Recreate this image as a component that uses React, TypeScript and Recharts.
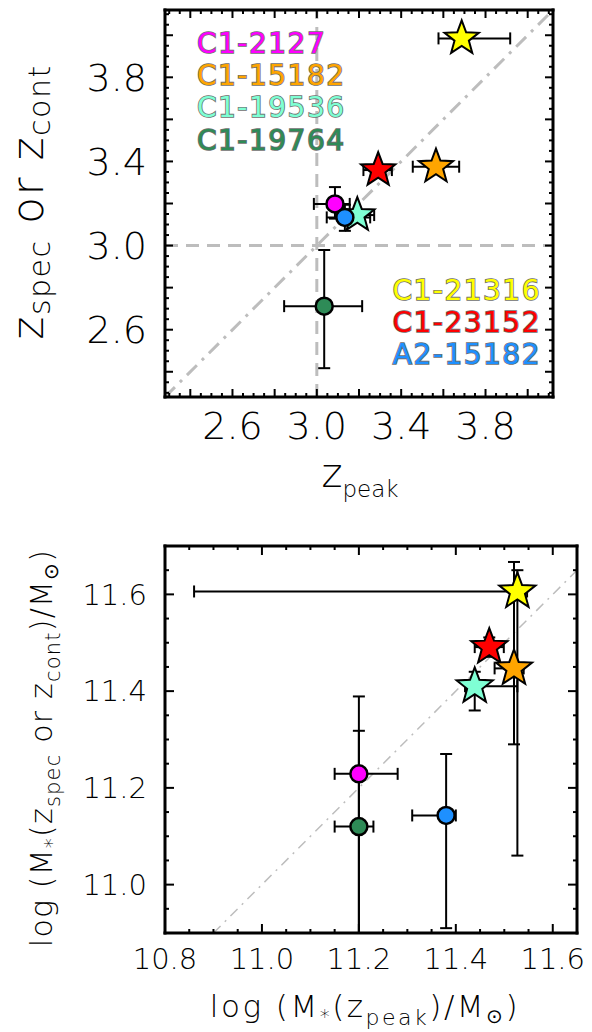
import React from 'react';
import { ScatterChart, Scatter, XAxis, YAxis, ErrorBar, ReferenceLine } from 'recharts';

// ---------- data ----------
const names = ['C1-2127', 'C1-15182', 'C1-19536', 'C1-19764', 'C1-21316', 'C1-23152', 'A2-15182'];
const markers = ['circle', 'star', 'star', 'circle', 'star', 'star', 'circle'];

// top panel: z_peak vs z_spec / z_cont
const zPeak = [3.086, 3.565, 3.192, 3.035, 3.687, 3.291, 3.133];
const zPeakErrLo = [0.10, 0.11, 0.05, 0.19, 0.11, 0.07, 0.086];
const zPeakErrHi = [0.07, 0.11, 0.08, 0.18, 0.23, 0.065, 0.12];
const zSpec = [3.198, 3.375, 3.145, 2.712, 3.985, 3.359, 3.134];
const zSpecErrLo = [0.07, 0, 0, 0.295, 0, 0, 0.064];
const zSpecErrHi = [0.08, 0, 0, 0.267, 0, 0, 0.06];

// bottom panel: log M*(z_peak) vs log M*(z_spec or z_cont)
const mPeak = [11.20, 11.52, 11.439, 11.20, 11.527, 11.469, 11.38];
const mPeakErrLo = [0.05, 0.04, 0.02, 0.05, 0.667, 0.03, 0.07];
const mPeakErrHi = [0.08, 0.02, 0.088, 0.03, 0.02, 0.03, 0.02];
const mSpec = [11.229, 11.447, 11.41, 11.12, 11.606, 11.491, 11.143];
const mSpecErrLo = [0.329, 0.157, 0.05, 0.22, 0.546, 0.02, 0.233];
const mSpecErrHi = [0.16, 0.22, 0.03, 0.198, 0.044, 0.02, 0.127];

const zTickLabels = [2.6, 3.0, 3.4, 3.8];
const mXTickLabels = [10.8, 11.0, 11.2, 11.4, 11.6];
const mYTickLabels = [11.0, 11.2, 11.4, 11.6];

const zDomain: [number, number] = [2.28, 4.12];
const mXDomain: [number, number] = [10.8, 11.65];
const mYDomain: [number, number] = [10.9, 11.7];

// ---------- style ----------
const colors = ['#FF00FF', '#FFA500', '#7FFFD4', '#2E8B57', '#FFFF00', '#FF0000', '#1E90FF'];
const drawOrder = [4, 5, 1, 2, 3, 0, 6];
const FONT = '"DejaVu Sans", sans-serif';
const GRAY = '#bdbdbd';

const steps = (a: number, b: number, s: number) => {
  const out: number[] = [];
  for (let v = a; v <= b + 1e-9; v += s) out.push(Math.round(v * 1000) / 1000);
  return out;
};

const starPoints = (cx: number, cy: number, R: number) => {
  const r = R * 0.42;
  const pts: string[] = [];
  for (let i = 0; i < 10; i++) {
    const a = -Math.PI / 2 + (i * Math.PI) / 5;
    const rad = i % 2 === 0 ? R : r;
    pts.push(`${cx + rad * Math.cos(a)},${cy + rad * Math.sin(a)}`);
  }
  return pts.join(' ');
};

const makeShape = (kind: string, color: string, starR: number, circR: number) => (p: any) => {
  const { cx, cy } = p;
  if (cx == null || cy == null) return <g />;
  if (kind === 'star')
    return <polygon points={starPoints(cx, cy, starR)} fill={color} stroke="#000" strokeWidth={2} strokeLinejoin="miter" />;
  return <circle cx={cx} cy={cy} r={circR} fill={color} stroke="#000" strokeWidth={2.5} />;
};

const emptyShape = () => <g />;

const tickMark = (side: string, majors: number[], majorLen: number, minorLen: number) => (p: any) => {
  const v = p.payload ? p.payload.value : NaN;
  const isMajor = majors.some((m) => Math.abs(m - v) < 1e-6);
  const L = isMajor ? majorLen : minorLen;
  const x = Number(p.x);
  const y = Number(p.y);
  let x2 = x;
  let y2 = y;
  if (side === 'bottom') y2 = y - L;
  else if (side === 'top') y2 = y + L;
  else if (side === 'left') x2 = x + L;
  else x2 = x - L;
  return <line x1={x} y1={y} x2={x2} y2={y2} stroke="#000" strokeWidth={2} />;
};

type PanelProps = {
  width: number;
  height: number;
  margin: { top: number; right: number; bottom: number; left: number };
  xs: number[]; xLo: number[]; xHi: number[];
  ys: number[]; yLo: number[]; yHi: number[];
  xDomain: [number, number]; yDomain: [number, number];
  xLabels: number[]; yLabels: number[];
  xMajor: number[]; xMinor: number[]; yMajor: number[]; yMinor: number[];
  fontSize: number;
  starR: number; circR: number;
  diag: [number, number];
  diagWidth: number; diagDash: string;
  crossLines: boolean;
  majorLen: number; minorLen: number;
};

const Panel = (P: PanelProps) => {
  const tickStyle = { fontSize: P.fontSize, fill: '#000', fontFamily: FONT, fontWeight: 200 };
  const frame = { stroke: '#000', strokeWidth: 3, strokeLinecap: 'square' as const };
  const common = { type: 'number' as const, allowDataOverflow: true, mirror: true, tickSize: 0, tickMargin: 0, tickLine: false, axisLine: frame, interval: 0 as const };
  const corners = [{ x: P.xDomain[0], y: P.yDomain[0] }, { x: P.xDomain[1], y: P.yDomain[1] }];
  return (
    <ScatterChart width={P.width} height={P.height} margin={P.margin}>
      <XAxis xAxisId="x" type="number" dataKey="x" domain={P.xDomain} allowDataOverflow ticks={P.xLabels}
        tickFormatter={(v: number) => v.toFixed(1)} tick={tickStyle} tickLine={false} axisLine={false}
        height={60} tickSize={6} tickMargin={9} interval={0} />
      <YAxis yAxisId="y" type="number" dataKey="y" domain={P.yDomain} allowDataOverflow ticks={P.yLabels}
        tickFormatter={(v: number) => v.toFixed(1)} tick={tickStyle} tickLine={false} axisLine={false}
        width={100} tickSize={8} tickMargin={10} interval={0} />

      <XAxis xAxisId="xb" {...common} dataKey="x" domain={P.xDomain} ticks={P.xMinor} orientation="bottom" height={1}
        tick={tickMark('bottom', P.xMajor, P.majorLen, P.minorLen)} />
      <XAxis xAxisId="xt" {...common} dataKey="x" domain={P.xDomain} ticks={P.xMinor} orientation="top" height={1}
        tick={tickMark('top', P.xMajor, P.majorLen, P.minorLen)} />
      <YAxis yAxisId="yl" {...common} dataKey="y" domain={P.yDomain} ticks={P.yMinor} orientation="left" width={1}
        tick={tickMark('left', P.yMajor, P.majorLen, P.minorLen)} />
      <YAxis yAxisId="yr" {...common} dataKey="y" domain={P.yDomain} ticks={P.yMinor} orientation="right" width={1}
        tick={tickMark('right', P.yMajor, P.majorLen, P.minorLen)} />

      <Scatter xAxisId="xb" yAxisId="yl" data={corners} dataKey="y" isAnimationActive={false} shape={emptyShape} />
      <Scatter xAxisId="xt" yAxisId="yr" data={corners} dataKey="y" isAnimationActive={false} shape={emptyShape} />

      {P.crossLines && <ReferenceLine xAxisId="x" yAxisId="y" x={3.0} stroke={GRAY} strokeWidth={3} strokeDasharray="13 8" />}
      {P.crossLines && <ReferenceLine xAxisId="x" yAxisId="y" y={3.0} stroke={GRAY} strokeWidth={3} strokeDasharray="13 8" />}
      <ReferenceLine xAxisId="x" yAxisId="y" segment={[{ x: P.diag[0], y: P.diag[0] }, { x: P.diag[1], y: P.diag[1] }]}
        stroke={GRAY} strokeWidth={P.diagWidth} strokeDasharray={P.diagDash} ifOverflow="visible" />

      {drawOrder.map((i) => {
        const row = [{ name: names[i], x: P.xs[i], y: P.ys[i], ex: [P.xLo[i], P.xHi[i]], ey: [P.yLo[i], P.yHi[i]] }];
        const hasX = P.xLo[i] + P.xHi[i] > 0;
        const hasY = P.yLo[i] + P.yHi[i] > 0;
        return (
          <Scatter key={names[i]} xAxisId="x" yAxisId="y" data={row} dataKey="y" isAnimationActive={false}
            shape={makeShape(markers[i], colors[i], P.starR, P.circR)}>
            {hasX && <ErrorBar dataKey="ex" direction="x" stroke="#000" strokeWidth={2} width={6} />}
            {hasY && <ErrorBar dataKey="ey" direction="y" stroke="#000" strokeWidth={2} width={6} />}
          </Scatter>
        );
      })}
    </ScatterChart>
  );
};

const labelStyle = { fontFamily: FONT, fontWeight: 400, stroke: '#6e6e6e', strokeWidth: 1.6, paintOrder: 'stroke' as const };

export default function App() {
  return (
    <div style={{ position: 'absolute', left: 0, top: 0, width: 592, height: 1032, background: '#fff', overflow: 'hidden' }}>
      <div style={{ position: 'absolute', left: 0, top: 0 }}>
        <Panel width={592} height={520} margin={{ top: 10, right: 39, bottom: 63, left: 65 }}
          xs={zPeak} xLo={zPeakErrLo} xHi={zPeakErrHi} ys={zSpec} yLo={zSpecErrLo} yHi={zSpecErrHi}
          xDomain={zDomain} yDomain={zDomain} xLabels={zTickLabels} yLabels={zTickLabels}
          xMajor={steps(2.4, 4.0, 0.2)} xMinor={steps(2.3, 4.1, 0.05)} yMajor={steps(2.4, 4.0, 0.2)} yMinor={steps(2.3, 4.1, 0.05)}
          fontSize={38} starR={18} circR={8.5} diag={zDomain} diagWidth={3} diagDash="14 7 3 7" crossLines
          majorLen={8} minorLen={4} />
      </div>
      <div style={{ position: 'absolute', left: 0, top: 520 }}>
        <Panel width={592} height={512} margin={{ top: 26, right: 15, bottom: 39, left: 65 }}
          xs={mPeak} xLo={mPeakErrLo} xHi={mPeakErrHi} ys={mSpec} yLo={mSpecErrLo} yHi={mSpecErrHi}
          xDomain={mXDomain} yDomain={mYDomain} xLabels={mXTickLabels} yLabels={mYTickLabels}
          xMajor={steps(10.8, 11.6, 0.2)} xMinor={steps(10.8, 11.65, 0.05)} yMajor={steps(11.0, 11.6, 0.2)} yMinor={steps(10.9, 11.7, 0.05)}
          fontSize={29} starR={19} circR={8.5} diag={[10.9, 11.65]} diagWidth={1.5} diagDash="10 6 2 6" crossLines={false}
          majorLen={9} minorLen={4} />
      </div>
      <svg width={592} height={1032} style={{ position: 'absolute', left: 0, top: 0, pointerEvents: 'none' }}>
        <g fontSize={28} style={{ whiteSpace: 'pre' }}>
          <text x={197} y={53} fill={colors[0]} {...labelStyle} letterSpacing={1.5}>{names[0]}</text>
          <text x={197} y={85} fill={colors[1]} {...labelStyle} letterSpacing={1.5}>{names[1]}</text>
          <text x={197} y={117} fill={colors[2]} {...labelStyle} letterSpacing={1.5}>{names[2]}</text>
          <text x={197} y={150} fill={colors[3]} {...labelStyle} letterSpacing={1.5}>{names[3]}</text>
          <text x={541} y={300} fill={colors[4]} {...labelStyle} letterSpacing={1.5} textAnchor="end">{names[4]}</text>
          <text x={541} y={332} fill={colors[5]} {...labelStyle} letterSpacing={1.5} textAnchor="end">{names[5]}</text>
          <text x={541} y={364} fill={colors[6]} {...labelStyle} letterSpacing={1.5} textAnchor="end">{names[6]}</text>
        </g>
        <g fontFamily={FONT} fontWeight={200} fill="#000" style={{ whiteSpace: 'pre' }}>
          <text x={360} y={487} textAnchor="middle" fontSize={40}>
            z<tspan fontSize={23} dy={10}>peak</tspan>
          </text>
          <text transform="translate(43,202) rotate(-90)" textAnchor="middle" fontSize={44} letterSpacing={1.5}>
            z<tspan fontSize={30} dy={7}>spec</tspan><tspan dy={-7}>  or  z</tspan><tspan fontSize={30} dy={7}>cont</tspan>
          </text>
          <text x={365} y={1017} textAnchor="middle" fontSize={31} letterSpacing={2.5}>
            log  (M<tspan fontSize={20} dy={6}>*</tspan><tspan dy={-6}>(z</tspan><tspan fontSize={22} dy={8}>peak</tspan><tspan dy={-8}>)/M</tspan><tspan fontSize={20} dy={6}>⊙</tspan><tspan dy={-6}>)</tspan>
          </text>
          <text transform="translate(52,748) rotate(-90)" textAnchor="middle" fontSize={30} letterSpacing={1.2}>
            log  (M<tspan fontSize={20} dy={6}>*</tspan><tspan dy={-6}>(z</tspan><tspan fontSize={21} dy={8}>spec</tspan><tspan dy={-8}>  or  z</tspan><tspan fontSize={21} dy={8}>cont</tspan><tspan dy={-8}>)/M</tspan><tspan fontSize={20} dy={6}>⊙</tspan><tspan dy={-6}>)</tspan>
          </text>
        </g>
      </svg>
    </div>
  );
}
